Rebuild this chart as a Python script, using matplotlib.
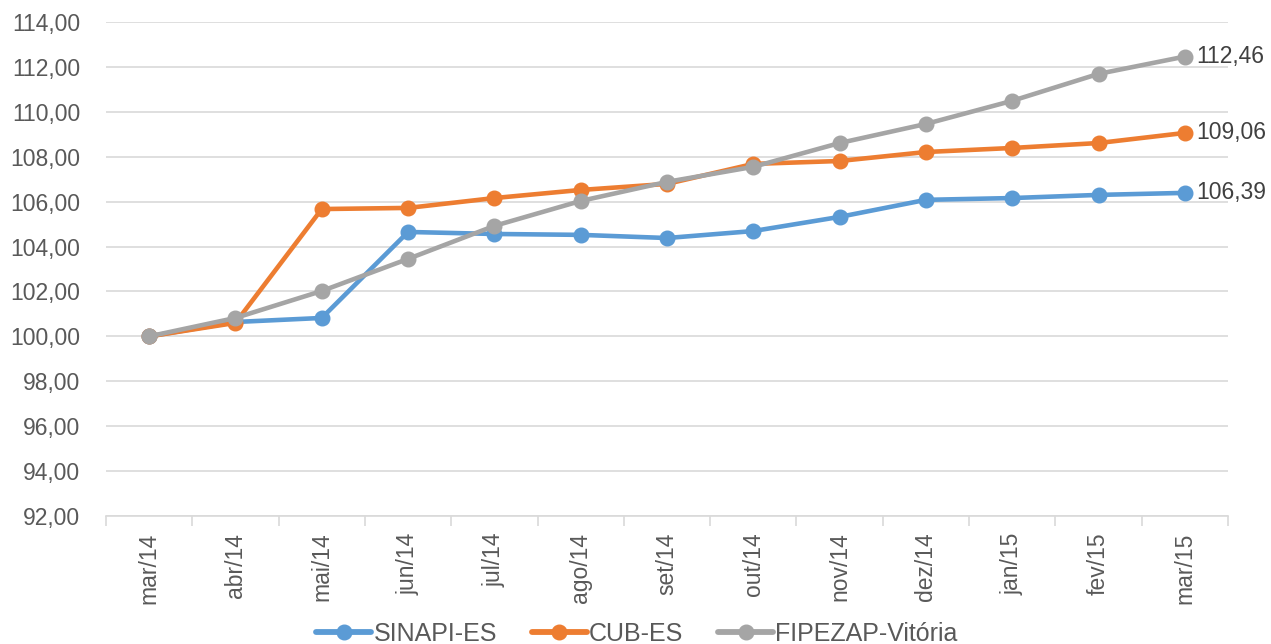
import matplotlib
matplotlib.use("Agg")
import matplotlib.pyplot as plt
import numpy as np

categories = ["mar/14", "abr/14", "mai/14", "jun/14", "jul/14", "ago/14", "set/14",
              "out/14", "nov/14", "dez/14", "jan/15", "fev/15", "mar/15"]
sinapi = [100.00, 100.64, 100.82, 104.65, 104.56, 104.52, 104.38, 104.69, 105.32, 106.08, 106.16, 106.30, 106.39]
cub = [100.00, 100.60, 105.67, 105.72, 106.16, 106.52, 106.79, 107.68, 107.81, 108.21, 108.39, 108.61, 109.06]
fipezap = [100.00, 100.82, 102.02, 103.45, 104.92, 106.03, 106.88, 107.55, 108.61, 109.46, 110.49, 111.69, 112.46]
series_names = ["SINAPI-ES", "CUB-ES", "FIPEZAP-Vitória"]
colors = ["#5B9BD5", "#ED7D31", "#A5A5A5"]
yticks = np.arange(92, 115, 2)

plt.rcParams['font.family'] = ['Liberation Sans', 'DejaVu Sans']
FS = 16.5

fig = plt.figure(figsize=(12.71, 6.44), dpi=100)
ax = fig.add_axes([106/1271, 1 - 516/644, (1228-106)/1271, (516-22)/644])

x = np.arange(len(categories))
for vals, name, c in zip([sinapi, cub, fipezap], series_names, colors):
    ax.plot(x, vals, color=c, lw=3.3, marker='o', markersize=10.5, label=name,
            solid_capstyle='round', zorder=3)
    ax.text(x[-1] + 0.13, vals[-1], f"{vals[-1]:.2f}".replace('.', ','),
            fontsize=FS, color="#404040", va='center', ha='left')

ax.set_xlim(-0.5, len(categories) - 0.5)
ax.set_ylim(92, 114)
ax.set_yticks(yticks)
ax.set_yticklabels([f"{v:.2f}".replace('.', ',') for v in yticks])
ax.yaxis.grid(True, color="#D9D9D9", lw=1.2)
ax.set_axisbelow(True)

ax.set_xticks(x)
ax.set_xticklabels(categories, rotation=90)
ax.set_xticks(np.arange(-0.5, len(categories)), minor=True)
ax.tick_params(axis='x', which='major', length=0, pad=12, labelsize=FS, colors="#595959")
ax.tick_params(axis='x', which='minor', length=7, color="#D9D9D9", width=1.2)
ax.tick_params(axis='y', length=0, labelsize=FS, colors="#595959", pad=18.5)

for s in ['top', 'right', 'left']:
    ax.spines[s].set_visible(False)
ax.spines['bottom'].set_color("#D9D9D9")
ax.spines['bottom'].set_linewidth(1.2)

leg = fig.legend(loc='center', bbox_to_anchor=(637/1271, 1 - 634/644), ncol=3,
                 frameon=False, fontsize=18, handlelength=2.2, columnspacing=1.4,
                 handletextpad=0.08, labelcolor="#595959", borderpad=0)
for h in leg.legend_handles:
    h.set_linewidth(4.2)

fig.savefig("out.png", dpi=100)
